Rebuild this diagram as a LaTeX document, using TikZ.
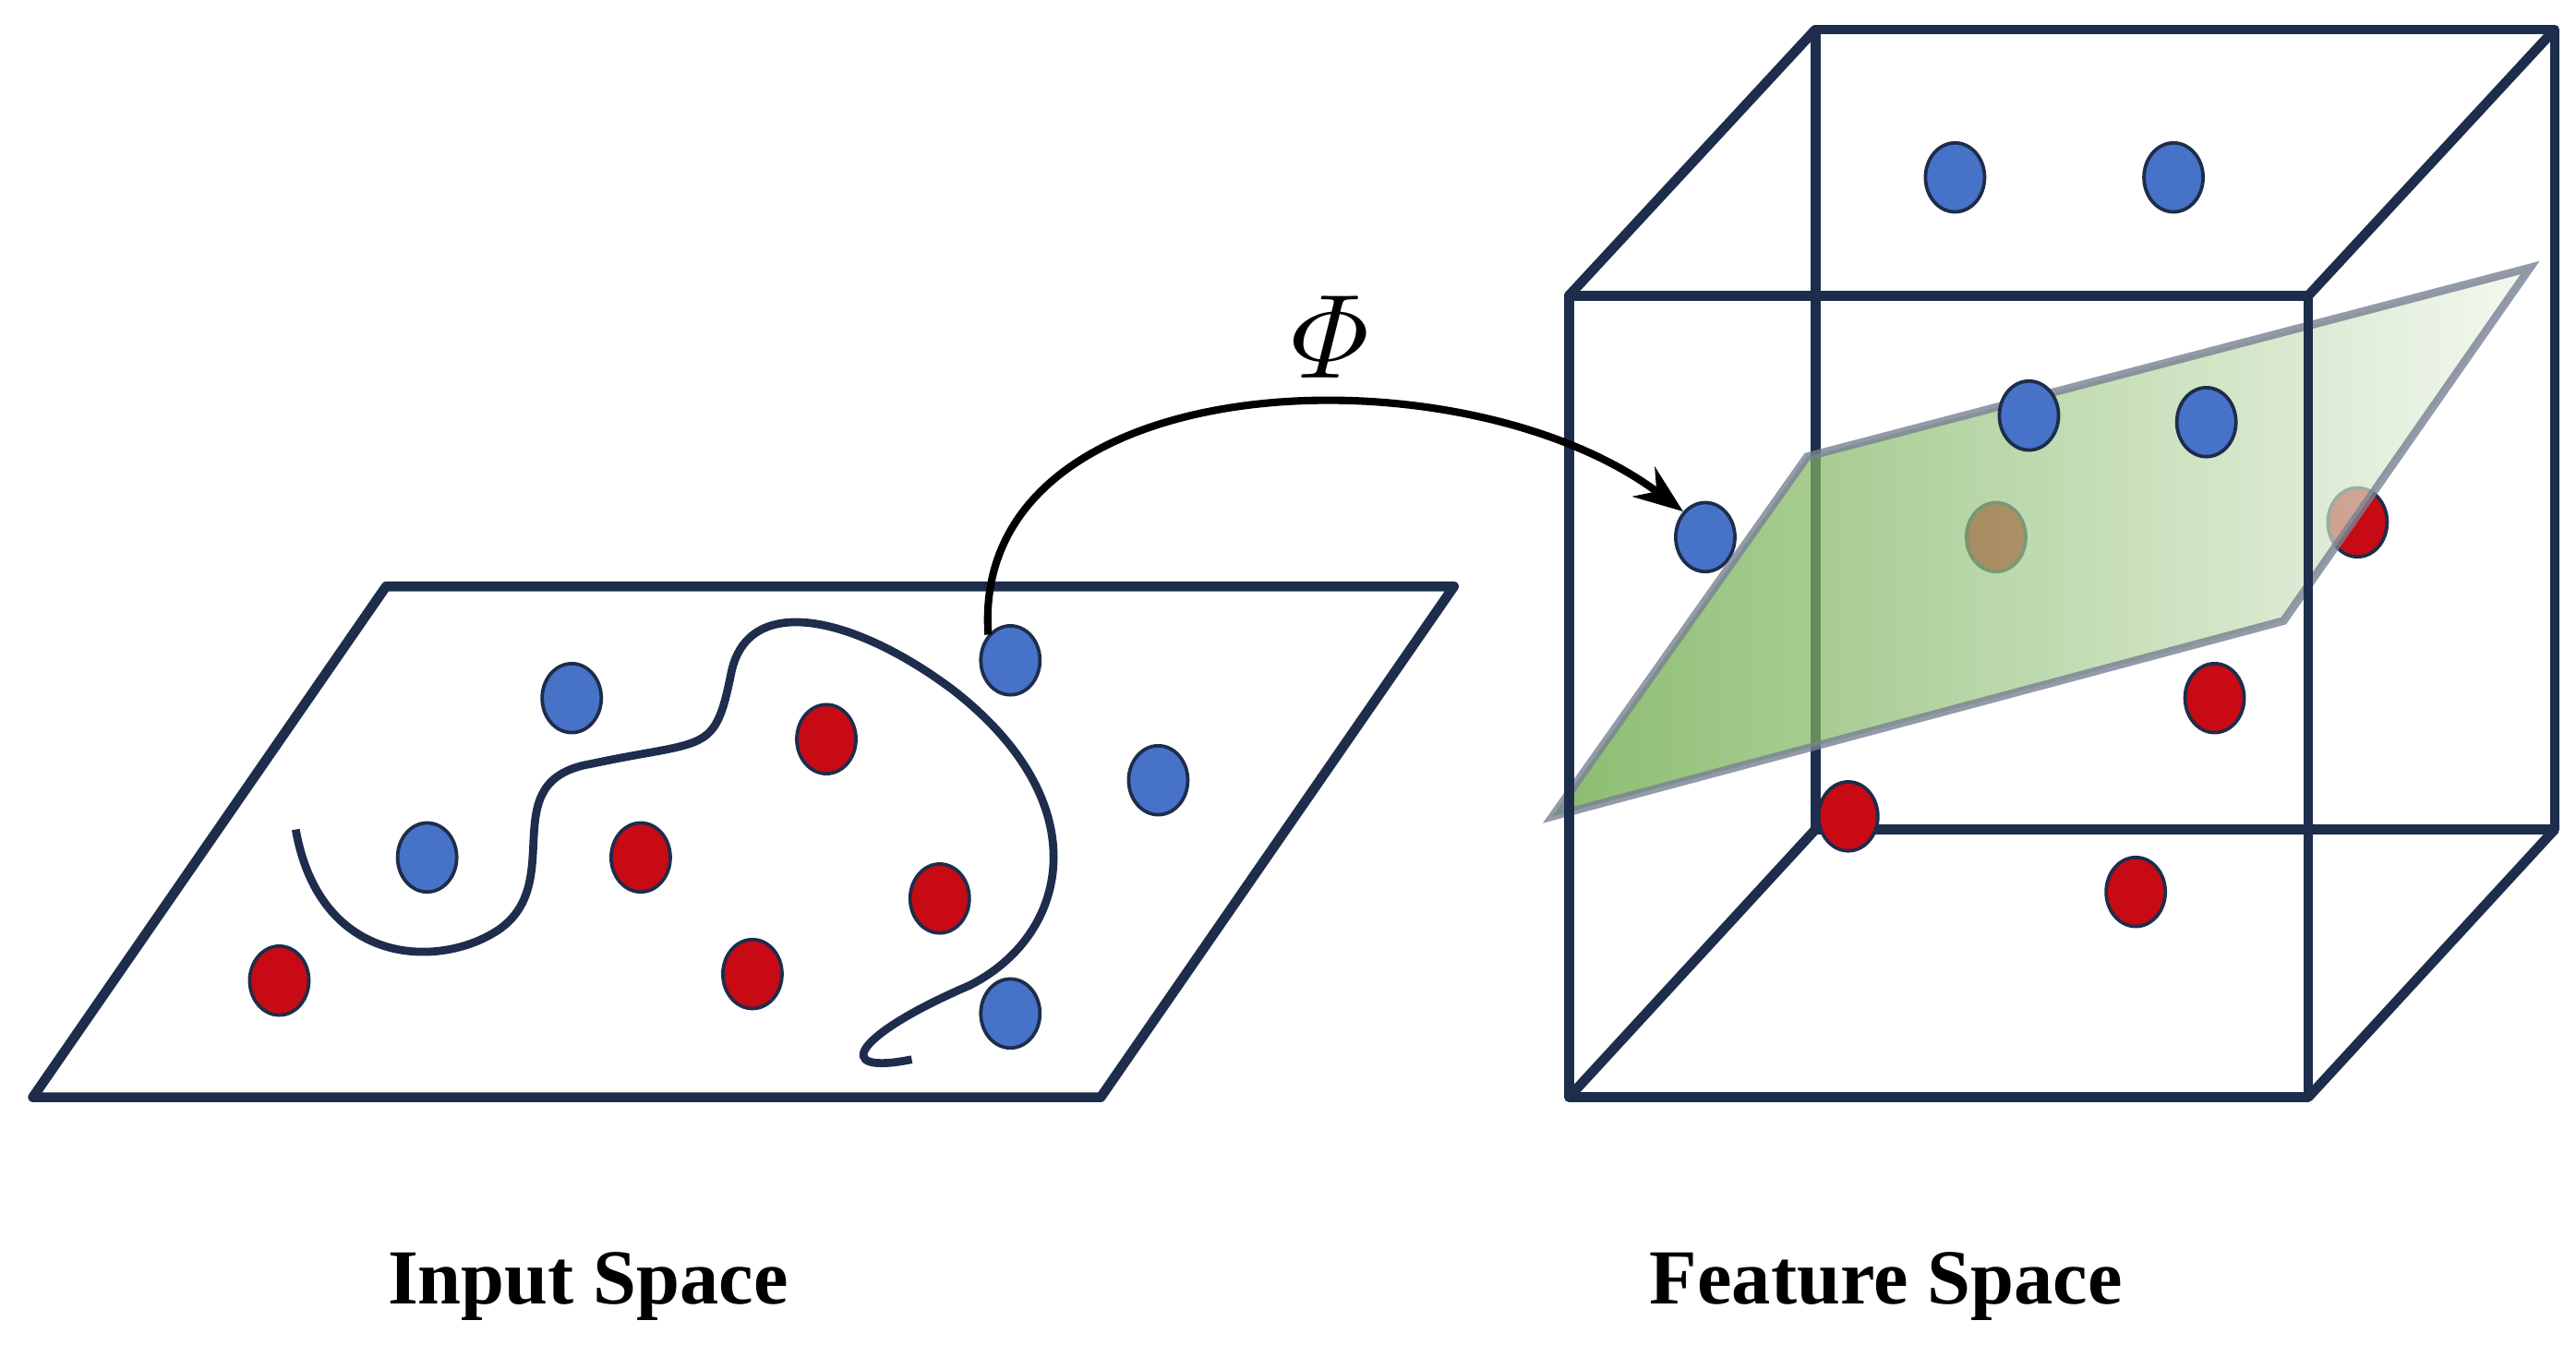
\documentclass[tikz,border=0pt]{standalone}
\usepackage{amsmath}
\usepackage{fontspec}
\setmainfont{Liberation Serif}
\usetikzlibrary{shapes.geometric, arrows.meta, positioning, calc}
\definecolor{frame}{RGB}{30,45,75}
\definecolor{dotblue}{RGB}{70,115,200}
\definecolor{dotred}{RGB}{200,10,20}
\definecolor{planegreen}{RGB}{90,160,50}
\tikzstyle{edge} = [frame, line width=1.7pt, line join=round]
\tikzstyle{bdot} = [ellipse, draw=frame, fill=dotblue, minimum width=0.36cm, minimum height=0.42cm, inner sep=0pt, line width=0.6pt]
\tikzstyle{rdot} = [ellipse, draw=frame, fill=dotred, minimum width=0.36cm, minimum height=0.42cm, inner sep=0pt, line width=0.6pt]

\begin{document}
\begin{tikzpicture}[y=-1cm]
    \useasboundingbox (0,0) rectangle (15.68,8.26);

    % Input space plane
    \draw[edge] (0.20,6.68) -- (2.35,3.57) -- (8.85,3.57) -- (6.70,6.68) -- cycle;
    \foreach \x/\y [count=\i] in {3.48/4.25, 2.60/5.22, 6.15/4.02, 7.05/4.75, 6.15/6.17}
        \node[bdot] (inb\i) at (\x,\y) {};
    \foreach \x/\y [count=\i] in {5.03/4.50, 3.90/5.22, 5.72/5.47, 4.58/5.93, 1.70/5.97}
        \node[rdot] (inr\i) at (\x,\y) {};

    % Separating curve
    \draw[frame, line width=1.4pt] (1.80,5.05) .. controls (1.95,5.90) and (2.70,5.90) .. (3.05,5.65)
        .. controls (3.45,5.35) and (3.00,4.75) .. (3.60,4.65)
        .. controls (4.30,4.50) and (4.35,4.60) .. (4.45,4.10)
        .. controls (4.55,3.60) and (5.20,3.75) .. (5.80,4.20)
        .. controls (6.70,4.90) and (6.50,5.70) .. (5.90,6.00)
        .. controls (5.20,6.30) and (5.05,6.55) .. (5.55,6.45);

    % Feature space cube
    \coordinate (f1) at (9.55,1.80);  \coordinate (f2) at (14.05,1.80);
    \coordinate (f3) at (14.05,6.68); \coordinate (f4) at (9.55,6.68);
    \coordinate (b1) at (11.05,0.18); \coordinate (b2) at (15.55,0.18);
    \coordinate (b3) at (15.55,5.05); \coordinate (b4) at (11.05,5.05);
    \draw[edge] (b1) -- (b2) -- (b3) -- (b4) -- cycle;
    \draw[edge] (f1) -- (b1) (f2) -- (b2) (f3) -- (b3) (f4) -- (b4);

    \foreach \x/\y [count=\i] in {11.90/1.08, 13.23/1.08, 10.38/3.27}
        \node[bdot] (ftb\i) at (\x,\y) {};
    \foreach \x/\y [count=\i] in {12.15/3.27, 14.35/3.18, 13.48/4.25, 11.25/4.97, 13.00/5.43}
        \node[rdot] (ftr\i) at (\x,\y) {};

    % Hyperplane
    \shade[left color=planegreen, right color=planegreen!10, fill opacity=0.7]
        (9.45,4.97) -- (11.00,2.78) -- (15.40,1.63) -- (13.90,3.78) -- cycle;
    \draw[frame!60, line width=1.4pt, opacity=0.8]
        (9.45,4.97) -- (11.00,2.78) -- (15.40,1.63) -- (13.90,3.78) -- cycle;
    \draw[edge] (f1) -- (f2) -- (f3) -- (f4) -- cycle;
    \node[bdot] (ftb4) at (12.35,2.53) {};
    \node[bdot] (ftb5) at (13.43,2.57) {};

    % Mapping
    \draw[line width=1.3pt, -{Stealth[length=3mm]}] (inb3.north west) .. controls (5.90,2.20) and (8.90,2.10) .. (ftb3.north west);
    \node[font=\fontsize{22}{26}\selectfont] (phi) at (8.10,2.05) {$\varPhi$};

    % Labels
    \node[font=\fontsize{13.5}{16}\selectfont\bfseries] (inlab) at (3.58,7.83) {Input Space};
    \node[font=\fontsize{13.5}{16}\selectfont\bfseries] (ftlab) at (11.48,7.83) {Feature Space};
\end{tikzpicture}
\end{document}
